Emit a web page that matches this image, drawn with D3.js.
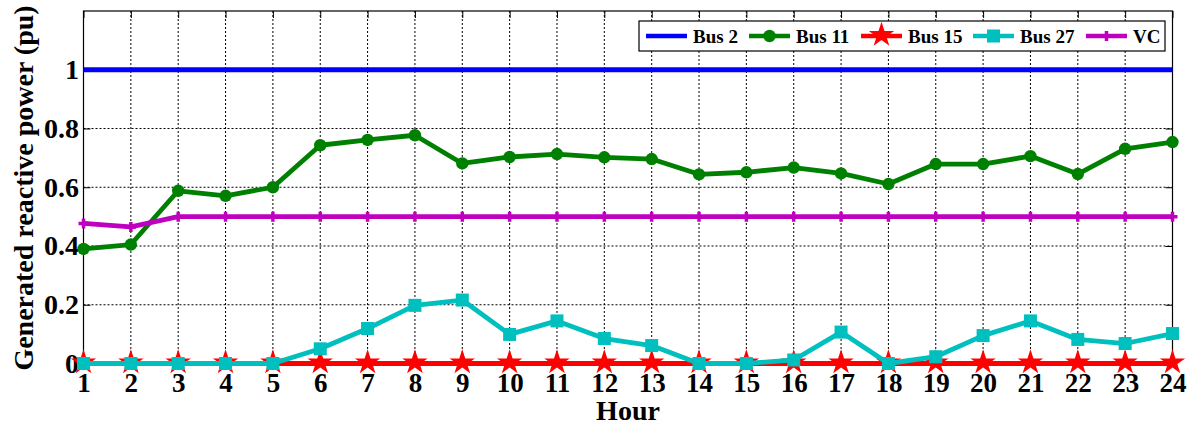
<!DOCTYPE html>
<html>
<head>
<meta charset="utf-8">
<script src="https://cdn.jsdelivr.net/npm/d3@7"></script>
<style>
  body { margin: 0; background: #fff; }
  svg text { font-family: "Liberation Serif", "Times New Roman", serif; font-weight: bold; }
</style>
</head>
<body>
<svg id="chart" width="1192" height="430"></svg>
<script>
const hours = d3.range(1, 25);
const bus2 = [1,1,1,1,1,1,1,1,1,1,1,1,1,1,1,1,1,1,1,1,1,1,1,1];
const bus11 = [0.39,0.405,0.588,0.571,0.60,0.743,0.761,0.777,0.681,0.703,0.713,0.702,0.696,0.644,0.651,0.667,0.647,0.611,0.679,0.679,0.706,0.645,0.731,0.754];
const bus15 = [0,0,0,0,0,0,0,0,0,0,0,0,0,0,0,0,0,0,0,0,0,0,0,0];
const bus27 = [0,0,0,0,0,0.050,0.119,0.198,0.216,0.099,0.145,0.085,0.061,0,0,0.012,0.107,0,0.023,0.095,0.145,0.082,0.068,0.102];
const vc = [0.477,0.465,0.5,0.5,0.5,0.5,0.5,0.5,0.5,0.5,0.5,0.5,0.5,0.5,0.5,0.5,0.5,0.5,0.5,0.5,0.5,0.5,0.5,0.5];
const yTicks = [0, 0.2, 0.4, 0.6, 0.8, 1];

const series = [
  { name: 'Bus 2', values: bus2, color: '#0000ff', marker: 'none' },
  { name: 'Bus 11', values: bus11, color: '#008000', marker: 'circle' },
  { name: 'Bus 15', values: bus15, color: '#ff0000', marker: 'star' },
  { name: 'Bus 27', values: bus27, color: '#00bfbf', marker: 'square' },
  { name: 'VC', values: vc, color: '#bf00bf', marker: 'plus' }
];

const plotLeft = 83.5, plotRight = 1172.5, plotTop = 11, plotBottom = 363.5;
const svg = d3.select('#chart');

const x = d3.scaleLinear().domain([1, 24]).range([plotLeft, plotRight]);
const y = d3.scaleLinear().domain([0, 1.2]).range([plotBottom, plotTop]);

// grid
const grid = svg.append('g');
grid.selectAll('.vg').data(hours.slice(1, -1)).enter().append('line')
  .attr('x1', d => x(d)).attr('x2', d => x(d))
  .attr('y1', plotTop).attr('y2', plotBottom)
  .attr('stroke', '#000').attr('stroke-width', 1).attr('stroke-dasharray', '2,2');
grid.selectAll('.hg').data(yTicks.slice(1)).enter().append('line')
  .attr('x1', plotLeft).attr('x2', plotRight)
  .attr('y1', d => y(d)).attr('y2', d => y(d))
  .attr('stroke', '#000').attr('stroke-width', 1).attr('stroke-dasharray', '2,2');

// axes
svg.append('g')
  .attr('transform', `translate(0,${plotBottom})`)
  .call(d3.axisBottom(x).tickValues(hours).tickFormat(d3.format('d')).tickSize(-7).tickPadding(9))
  .call(g => g.select('.domain').remove())
  .selectAll('text').attr('font-size', 27).attr('fill', '#000');
svg.append('g')
  .attr('transform', `translate(0,${plotTop})`)
  .call(d3.axisTop(x).tickValues(hours).tickFormat('').tickSize(-7))
  .call(g => g.select('.domain').remove());
svg.append('g')
  .attr('transform', `translate(${plotLeft},0)`)
  .call(d3.axisLeft(y).tickValues(yTicks).tickFormat(d => d === 0 ? '0' : (d === 1 ? '1' : d3.format('.1f')(d))).tickSize(-7).tickPadding(4.5))
  .call(g => g.select('.domain').remove())
  .selectAll('text').attr('font-size', 28).attr('fill', '#000');
svg.append('g')
  .attr('transform', `translate(${plotRight},0)`)
  .call(d3.axisRight(y).tickValues(yTicks).tickFormat('').tickSize(-7))
  .call(g => g.select('.domain').remove());

svg.append('rect')
  .attr('x', plotLeft).attr('y', plotTop).attr('width', plotRight - plotLeft).attr('height', plotBottom - plotTop)
  .attr('fill', 'none').attr('stroke', '#000').attr('stroke-width', 1.2);

// symbols
function drawMarker(g, type, color, cx, cy) {
  if (type === 'circle') {
    g.append('circle').attr('cx', cx).attr('cy', cy).attr('r', 6.2).attr('fill', color);
  } else if (type === 'square') {
    g.append('rect').attr('x', cx - 6.5).attr('y', cy - 6.5).attr('width', 13).attr('height', 13).attr('fill', color);
  } else if (type === 'star') {
    g.append('path').attr('d', d3.symbol(d3.symbolStar, 200)())
      .attr('transform', `translate(${cx},${cy - 1})`).attr('fill', color);
  } else if (type === 'plus') {
    g.append('path').attr('d', `M${cx - 5},${cy}H${cx + 5}M${cx},${cy - 5}V${cy + 5}`)
      .attr('stroke', color).attr('stroke-width', 3.5).attr('fill', 'none');
  }
}

const line = d3.line().x((d, i) => x(hours[i])).y(d => y(d));
const plot = svg.append('g');
series.forEach(s => {
  const g = plot.append('g');
  g.append('path').datum(s.values)
    .attr('d', line).attr('fill', 'none')
    .attr('stroke', s.color).attr('stroke-width', 4.8).attr('stroke-linejoin', 'round');
  s.values.forEach((v, i) => drawMarker(g, s.marker, s.color, x(hours[i]), y(v)));
});

// labels
svg.append('text')
  .attr('x', (plotLeft + plotRight) / 2).attr('y', 420)
  .attr('text-anchor', 'middle').attr('font-size', 28).text('Hour');
svg.append('text')
  .attr('transform', 'translate(33,188) rotate(-90)')
  .attr('text-anchor', 'middle').attr('font-size', 28).text('Generated reactive power (pu)');

// legend
const legend = svg.append('g');
legend.append('rect')
  .attr('x', 639).attr('y', 21).attr('width', 526).attr('height', 30)
  .attr('fill', '#fff').attr('stroke', '#000').attr('stroke-width', 1.2);
const legX = [646, 749, 861, 973, 1086];
series.forEach((s, i) => {
  const lx = legX[i];
  legend.append('line')
    .attr('x1', lx).attr('x2', lx + 41).attr('y1', 36).attr('y2', 36)
    .attr('stroke', s.color).attr('stroke-width', 4.5);
  drawMarker(legend, s.marker, s.color, lx + 20.5, 36);
  legend.append('text')
    .attr('x', lx + 47).attr('y', 43).attr('font-size', 19).text(s.name);
});
</script>
</body>
</html>
